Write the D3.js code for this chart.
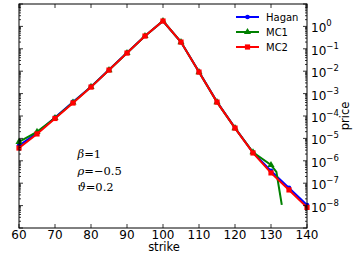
<!DOCTYPE html>
<html>
<head>
<meta charset="utf-8">
<script src="https://cdn.jsdelivr.net/npm/d3@7"></script>
<style>
  body { margin: 0; background: #fff; }
  svg { display: block; font-family: "DejaVu Sans", sans-serif; }
</style>
</head>
<body>
<div id="chart"></div>
<script>
const strikes = [60, 65, 70, 75, 80, 85, 90, 95, 100, 105, 110, 115, 120, 125, 130, 135, 140];
// log10 of prices
const haganLog = [-5.32, -4.76, -4.07, -3.37, -2.69, -1.94, -1.18, -0.43, 0.24, -0.70, -2.03, -3.37, -4.53, -5.63, -6.45, -7.21, -7.97];
const mc2Log   = [-5.43, -4.80, -4.11, -3.42, -2.71, -1.95, -1.19, -0.43, 0.24, -0.70, -2.04, -3.38, -4.54, -5.65, -6.54, -7.30, -8.08];
const mc1Strikes = [60, 65, 70, 75, 80, 85, 90, 95, 100, 105, 110, 115, 120, 125, 130, 131.5, 133];
const mc1Log     = [-5.16, -4.71, -4.09, -3.40, -2.70, -1.95, -1.19, -0.43, 0.24, -0.70, -2.04, -3.38, -4.54, -5.62, -6.19, -6.50, -7.97];
const xTicks = [60, 70, 80, 90, 100, 110, 120, 130, 140];
const yDecades = [-9, -8, -7, -6, -5, -4, -3, -2, -1, 0, 1];
const labelDecades = [-8, -7, -6, -5, -4, -3, -2, -1, 0];
const annotations = ["β", "ρ", "ϑ"];
const annotationValues = ["1", "−0.5", "0.2"];

const width = 353, height = 264;
const margin = { top: 4, right: 46, bottom: 36, left: 19 };
const x0 = margin.left, x1 = width - margin.right;
const y0 = margin.top, y1 = height - margin.bottom;

const x = d3.scaleLinear().domain([60, 140]).range([x0, x1]);
const y = d3.scaleLog().domain([1e-9, 10]).range([y1, y0]);

const svg = d3.select("#chart").append("svg")
  .attr("width", width)
  .attr("height", height);

const makeSeries = (xs, ls) => xs.map((k, i) => ({ k: k, v: Math.pow(10, ls[i]) }));
const hagan = makeSeries(strikes, haganLog);
const mc1 = makeSeries(mc1Strikes, mc1Log);
const mc2 = makeSeries(strikes, mc2Log);

const line = d3.line().x(d => x(d.k)).y(d => y(d.v));

const plot = svg.append("g");

// Hagan
plot.append("path").datum(hagan)
  .attr("d", line).attr("fill", "none").attr("stroke", "#0000ff").attr("stroke-width", 2);
plot.selectAll(".hag").data(hagan).join("circle")
  .attr("cx", d => x(d.k)).attr("cy", d => y(d.v)).attr("r", 2.3).attr("fill", "#0000ff");

// MC1
plot.append("path").datum(mc1)
  .attr("d", line).attr("fill", "none").attr("stroke", "#008000").attr("stroke-width", 2);
plot.selectAll(".mc1").data(mc1.filter(d => d.k % 5 === 0)).join("path")
  .attr("transform", d => `translate(${x(d.k)},${y(d.v)})`)
  .attr("d", d3.symbol(d3.symbolTriangle, 22)).attr("fill", "#008000");

// MC2
plot.append("path").datum(mc2)
  .attr("d", line).attr("fill", "none").attr("stroke", "#ff0000").attr("stroke-width", 2);
plot.selectAll(".mc2").data(mc2).join("rect")
  .attr("x", d => x(d.k) - 2.6).attr("y", d => y(d.v) - 2.6)
  .attr("width", 5.2).attr("height", 5.2).attr("fill", "#ff0000");

// frame
svg.append("rect")
  .attr("x", x0).attr("y", y0).attr("width", x1 - x0).attr("height", y1 - y0)
  .attr("fill", "none").attr("stroke", "#000").attr("stroke-width", 1);

// x ticks (inward, top and bottom)
const tk = svg.append("g").attr("stroke", "#000").attr("stroke-width", 0.8);
xTicks.forEach(t => {
  tk.append("line").attr("x1", x(t)).attr("x2", x(t)).attr("y1", y1).attr("y2", y1 - 4);
  tk.append("line").attr("x1", x(t)).attr("x2", x(t)).attr("y1", y0).attr("y2", y0 + 4);
});
svg.selectAll(".xl").data(xTicks).join("text")
  .attr("x", d => x(d)).attr("y", y1 + 10.5)
  .attr("text-anchor", "middle").attr("font-size", 12).text(d => d);

// y ticks (log, major + minor, both sides)
yDecades.forEach(d => {
  const base = Math.pow(10, d);
  const py = y(base);
  tk.append("line").attr("x1", x0).attr("x2", x0 + 4).attr("y1", py).attr("y2", py);
  tk.append("line").attr("x1", x1).attr("x2", x1 - 4).attr("y1", py).attr("y2", py);
  if (d < 1) {
    for (let m = 2; m <= 9; m++) {
      const my = y(m * base);
      tk.append("line").attr("x1", x0).attr("x2", x0 + 2).attr("y1", my).attr("y2", my);
      tk.append("line").attr("x1", x1).attr("x2", x1 - 2).attr("y1", my).attr("y2", my);
    }
  }
});

const yl = svg.selectAll(".yl").data(labelDecades).join("text")
  .attr("x", x1 + 4).attr("y", d => y(Math.pow(10, d)) + 6)
  .attr("font-size", 12);
yl.append("tspan").text("10");
yl.append("tspan").attr("dy", -6).attr("font-size", 8.5)
  .text(d => d === 0 ? "0" : "−" + Math.abs(d));

// axis labels
svg.append("text").attr("x", 164).attr("y", 251)
  .attr("text-anchor", "middle").attr("font-size", 11.5).text("strike");
svg.append("text")
  .attr("transform", `translate(${width - 4},${(y0 + y1) / 2}) rotate(-90)`)
  .attr("text-anchor", "middle").attr("font-size", 11.5).text("price");

// legend
const legendItems = [
  { name: "Hagan", color: "#0000ff", shape: "circle" },
  { name: "MC1", color: "#008000", shape: "tri" },
  { name: "MC2", color: "#ff0000", shape: "square" }
];
const lg = svg.append("g");
legendItems.forEach((it, i) => {
  const ly = 17 + i * 15;
  lg.append("line").attr("x1", 236).attr("x2", 259).attr("y1", ly).attr("y2", ly)
    .attr("stroke", it.color).attr("stroke-width", 2);
  if (it.shape === "circle") {
    lg.append("circle").attr("cx", 247.5).attr("cy", ly).attr("r", 2.3).attr("fill", it.color);
  } else if (it.shape === "tri") {
    lg.append("path").attr("transform", `translate(247.5,${ly})`)
      .attr("d", d3.symbol(d3.symbolTriangle, 22)).attr("fill", it.color);
  } else {
    lg.append("rect").attr("x", 244.9).attr("y", ly - 2.6).attr("width", 5.2).attr("height", 5.2).attr("fill", it.color);
  }
  lg.append("text").attr("x", 266).attr("y", ly + 3.6).attr("font-size", 10).text(it.name);
});

// parameter annotation
const annY = [157.5, 174.5, 191];
const ann = svg.append("g").attr("font-family", "'DejaVu Serif', serif").attr("font-size", 11.5);
annotations.forEach((a, i) => {
  const t = ann.append("text").attr("x", 77.5).attr("y", annY[i]);
  t.append("tspan").attr("font-style", "italic").text(a);
  t.append("tspan").text("=" + annotationValues[i]);
});
</script>
</body>
</html>
